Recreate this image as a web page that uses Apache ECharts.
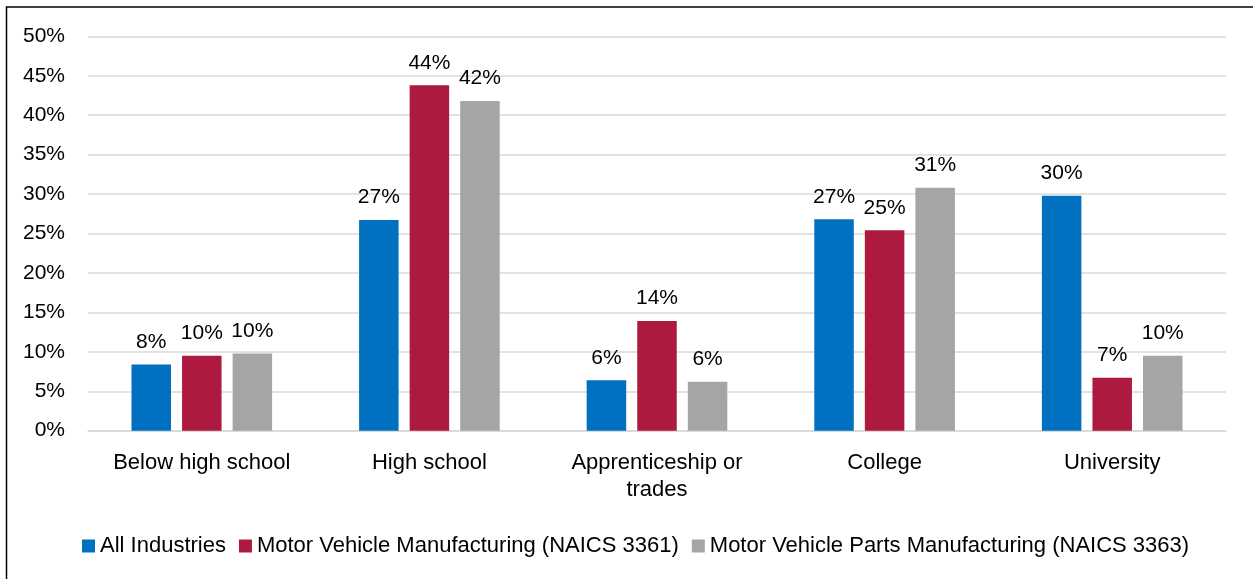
<!DOCTYPE html>
<html>
<head>
<meta charset="utf-8">
<style>
  html, body { margin: 0; padding: 0; background: #fff; }
  #chart { width: 1253px; height: 579px; }
</style>
<script src="https://cdn.jsdelivr.net/npm/echarts@6/dist/echarts.min.js"></script>
</head>
<body>
<div id="chart"></div>
<script>
// ---- data ----
const categories = ['Below high school', 'High school', 'Apprenticeship or\ntrades', 'College', 'University'];
const seriesNames = ['All Industries', 'Motor Vehicle Manufacturing (NAICS 3361)', 'Motor Vehicle Parts Manufacturing (NAICS 3363)'];
const allIndustries = [8.4, 26.7, 6.4, 26.8, 29.8];
const motorVehicle = [9.5, 43.8, 13.9, 25.4, 6.7];
const motorVehicleParts = [9.8, 41.8, 6.2, 30.8, 9.5];
const yTicks = [0, 5, 10, 15, 20, 25, 30, 35, 40, 45, 50];

const colors = ['#0070C0', '#AE1A3F', '#A5A5A5'];
const FONT = 'Liberation Sans, Arial, sans-serif';

const chart = echarts.init(document.getElementById('chart'), null, { renderer: 'canvas' });

function barSeries(name, data, color) {
  return {
    name: name,
    type: 'bar',
    data: data,
    barWidth: 39.5,
    barGap: '28%',
    itemStyle: { color: color },
    label: {
      show: true,
      position: 'top',
      distance: 12,
      color: '#000',
      fontFamily: FONT,
      fontSize: 21,
      formatter: p => Math.round(p.value) + '%'
    },
    emphasis: { disabled: true }
  };
}

chart.setOption({
  animation: false,
  backgroundColor: '#fff',
  textStyle: { fontFamily: FONT },
  graphic: [{
    type: 'rect',
    shape: { x: 6.5, y: 7, width: 1400, height: 800 },
    style: { fill: 'none', stroke: '#000', lineWidth: 1.5 },
    silent: true
  }],
  grid: { left: 88, right: 27, top: 36.3, bottom: 148.3, containLabel: false },
  legend: {
    data: seriesNames,
    left: 82,
    top: 535,
    padding: 0,
    itemWidth: 13,
    itemHeight: 13,
    itemGap: 13,
    icon: 'rect',
    textStyle: { color: '#000', fontFamily: FONT, fontSize: 22 },
    selectedMode: false
  },
  xAxis: {
    type: 'category',
    data: categories,
    axisLine: { show: true, lineStyle: { color: '#D9D9D9', width: 1.5 } },
    axisTick: { show: false },
    axisLabel: {
      color: '#000',
      fontFamily: FONT,
      fontSize: 22,
      lineHeight: 27,
      margin: 19,
      interval: 0
    }
  },
  yAxis: {
    type: 'value',
    min: yTicks[0],
    max: yTicks[yTicks.length - 1],
    interval: 5,
    axisLine: { show: false },
    axisTick: { show: false },
    splitLine: { lineStyle: { color: '#D9D9D9', width: 1.5 } },
    axisLabel: {
      color: '#000',
      fontFamily: FONT,
      fontSize: 21,
      margin: 23,
      formatter: v => v + '%'
    }
  },
  series: [
    barSeries(seriesNames[0], allIndustries, colors[0]),
    barSeries(seriesNames[1], motorVehicle, colors[1]),
    barSeries(seriesNames[2], motorVehicleParts, colors[2])
  ]
});
</script>
</body>
</html>
